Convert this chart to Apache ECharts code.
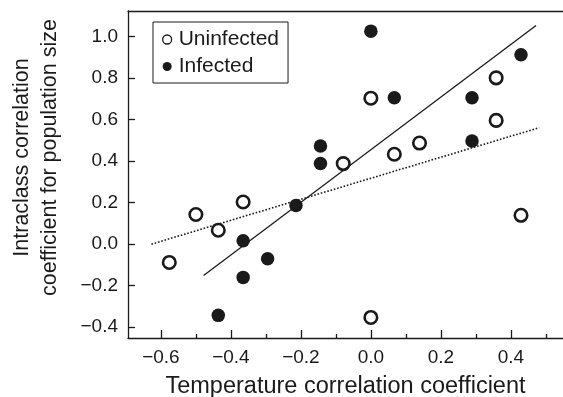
<!DOCTYPE html>
<html>
<head>
<meta charset="utf-8">
<script src="https://cdn.jsdelivr.net/npm/echarts@6/dist/echarts.min.js"></script>
<style>
  html, body { margin: 0; padding: 0; background: #fff; }
  #chart { width: 563px; height: 397px; }
</style>
</head>
<body>
<div id="chart"></div>
<script>
// temperature correlation (x) vs intraclass correlation (y)
const uninfected = [
  [-0.576, -0.088], [-0.5, 0.143], [-0.436, 0.067], [-0.365, 0.203],
  [-0.079, 0.388], [0.0, 0.703], [0.067, 0.433], [0.139, 0.487],
  [0.358, 0.801], [0.358, 0.596], [0.429, 0.139], [0.0, -0.353]
]
const infected = [
  [-0.365, 0.016], [-0.365, -0.16], [-0.295, -0.07], [-0.436, -0.343],
  [-0.214, 0.186], [-0.144, 0.473], [-0.144, 0.388], [0.0, 1.026],
  [0.067, 0.705], [0.289, 0.705], [0.289, 0.497], [0.429, 0.912]
]
// fitted lines (end points)
const fitInfected = [[-0.478, -0.151], [0.472, 1.053]]
const fitUninfected = [[-0.627, 0.0], [0.481, 0.561]]

const xMajor = [-0.6, -0.4, -0.2, 0.0, 0.2, 0.4]
const xMinor = [-0.5, -0.3, -0.1, 0.1, 0.3, 0.5]
const yTicks = [-0.4, -0.2, 0.0, 0.2, 0.4, 0.6, 0.8, 1.0]

const INK = '#1a1a1a'
const FONT = 'Liberation Sans'
const fmt = (v) => (v < -1e-9 ? '\u2212' + Math.abs(v).toFixed(1) : Math.abs(v).toFixed(1))

const chart = echarts.init(document.getElementById('chart'))
const xRange = { min: -0.694, max: 0.549 }

const option = {
  animation: false,
  backgroundColor: '#fff',
  textStyle: { fontFamily: FONT },
  grid: { left: 128, right: 0, top: 11, bottom: 59, containLabel: false, outerBoundsMode: 'none' },
  legend: {
    left: 153,
    top: 22,
    orient: 'vertical',
    borderColor: INK,
    borderWidth: 1,
    padding: [7, 9, 6, 9],
    itemGap: 6,
    itemWidth: 13,
    itemHeight: 9,
    textStyle: { fontFamily: FONT, fontSize: 21, color: INK },
    data: [
      { name: 'Uninfected', itemStyle: { color: '#fff', borderColor: INK, borderWidth: 1.3 } },
      { name: 'Infected', itemStyle: { color: INK, borderWidth: 0 } }
    ]
  },
  xAxis: [
    {
      type: 'value',
      ...xRange,
      position: 'bottom',
      name: 'Temperature correlation coefficient',
      nameLocation: 'middle',
      nameGap: 37,
      nameTextStyle: { fontFamily: FONT, fontSize: 23.5, color: INK },
      splitLine: { show: false },
      axisLine: { show: true, onZero: false, lineStyle: { color: INK, width: 1.3 } },
      axisTick: { show: true, inside: true, length: 8, customValues: xMajor, lineStyle: { color: INK, width: 1.3 } },
      axisLabel: { customValues: xMajor, formatter: fmt, margin: 10, fontFamily: FONT, fontSize: 19, color: INK }
    },
    {
      type: 'value',
      ...xRange,
      position: 'bottom',
      splitLine: { show: false },
      axisLine: { show: false, onZero: false },
      axisTick: { show: true, inside: true, length: 4, customValues: xMinor, lineStyle: { color: INK, width: 1.3 } },
      axisLabel: { show: false }
    },
    {
      type: 'value',
      ...xRange,
      position: 'top',
      splitLine: { show: false },
      axisLine: { show: true, onZero: false, lineStyle: { color: INK, width: 1.3 } },
      axisTick: { show: false },
      axisLabel: { show: false }
    }
  ],
  yAxis: {
    type: 'value',
    min: -0.452,
    max: 1.123,
    name: 'Intraclass correlation\ncoefficient for population size',
    nameLocation: 'middle',
    nameGap: 64,
    nameTextStyle: { fontFamily: FONT, fontSize: 21.5, color: INK, lineHeight: 28, padding: [0, 0, 0, 34] },
    splitLine: { show: false },
    axisLine: { show: true, onZero: false, lineStyle: { color: INK, width: 1.3 } },
    axisTick: { show: true, inside: true, length: 7, customValues: yTicks, lineStyle: { color: INK, width: 1.3 } },
    axisLabel: { customValues: yTicks, formatter: fmt, margin: 10, fontFamily: FONT, fontSize: 19, color: INK }
  },
  series: [
    {
      name: 'fitInfected',
      type: 'line',
      data: fitInfected,
      symbol: 'none',
      lineStyle: { color: INK, width: 1.3 },
      z: 1
    },
    {
      name: 'fitUninfected',
      type: 'line',
      data: fitUninfected,
      symbol: 'none',
      lineStyle: { color: INK, width: 1.6, type: [1.6, 1.8] },
      z: 1
    },
    {
      name: 'Uninfected',
      type: 'scatter',
      data: uninfected,
      symbol: 'circle',
      symbolSize: 12.5,
      itemStyle: { color: 'rgba(0,0,0,0)', borderColor: INK, borderWidth: 2.6, opacity: 1 },
      z: 3
    },
    {
      name: 'Infected',
      type: 'scatter',
      data: infected,
      symbol: 'circle',
      symbolSize: 13.5,
      itemStyle: { color: INK, opacity: 1 },
      z: 3
    }
  ]
}
chart.setOption(option)
</script>
</body>
</html>
